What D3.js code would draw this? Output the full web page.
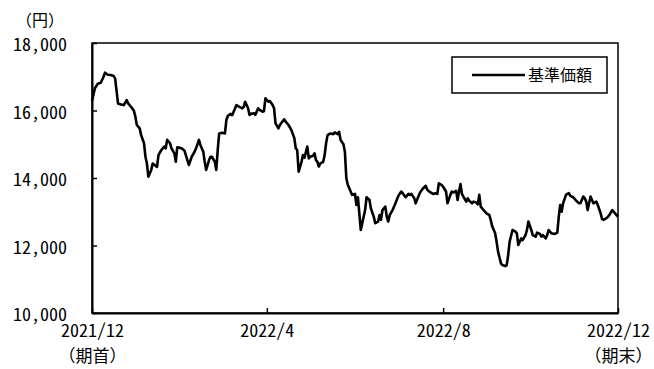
<!DOCTYPE html>
<html>
<head>
<meta charset="utf-8">
<script src="https://cdn.jsdelivr.net/npm/d3@7"></script>
<style>
  body { margin: 0; background: #fff; }
  text { fill: #000; }
</style>
</head>
<body>
<svg id="chart" width="654" height="369"></svg>
<script>
// 基準価額の推移（期首 2021/12 〜 期末 2022/12）
const navDates = [
  "2021-12-08","2021-12-10","2021-12-12","2021-12-14","2021-12-16","2021-12-17","2021-12-19","2021-12-21","2021-12-23","2021-12-24",
  "2021-12-26","2021-12-28","2021-12-30","2022-01-01","2022-01-02","2022-01-04","2022-01-06","2022-01-07","2022-01-08","2022-01-10",
  "2022-01-11","2022-01-13","2022-01-14","2022-01-15","2022-01-16","2022-01-18","2022-01-19","2022-01-21","2022-01-22","2022-01-23",
  "2022-01-25","2022-01-27","2022-01-28","2022-01-29","2022-01-31","2022-02-01","2022-02-03","2022-02-04","2022-02-05","2022-02-06",
  "2022-02-08","2022-02-10","2022-02-12","2022-02-13","2022-02-15","2022-02-17","2022-02-18","2022-02-20","2022-02-21","2022-02-23",
  "2022-02-24","2022-02-25","2022-02-27","2022-02-28","2022-03-01","2022-03-03","2022-03-04","2022-03-05","2022-03-06","2022-03-08",
  "2022-03-10","2022-03-11","2022-03-12","2022-03-14","2022-03-15","2022-03-16","2022-03-18","2022-03-20","2022-03-22","2022-03-23",
  "2022-03-24","2022-03-26","2022-03-27","2022-03-28","2022-03-30","2022-03-31","2022-04-02","2022-04-03","2022-04-05","2022-04-06",
  "2022-04-07","2022-04-09","2022-04-10","2022-04-12","2022-04-13","2022-04-14","2022-04-16","2022-04-17","2022-04-20","2022-04-21",
  "2022-04-23","2022-04-25","2022-04-27","2022-04-28","2022-04-29","2022-04-30","2022-05-02","2022-05-03","2022-05-04","2022-05-06",
  "2022-05-07","2022-05-08","2022-05-10","2022-05-11","2022-05-12","2022-05-13","2022-05-14","2022-05-15","2022-05-17","2022-05-18",
  "2022-05-19","2022-05-20","2022-05-22","2022-05-24","2022-05-25","2022-05-27","2022-05-28","2022-05-29","2022-05-31","2022-06-01",
  "2022-06-02","2022-06-03","2022-06-05","2022-06-06","2022-06-08","2022-06-09","2022-06-10","2022-06-11","2022-06-12","2022-06-13",
  "2022-06-15","2022-06-16","2022-06-18","2022-06-19","2022-06-21","2022-06-22","2022-06-24","2022-06-25","2022-06-26","2022-06-27",
  "2022-06-29","2022-06-30","2022-07-01","2022-07-02","2022-07-04","2022-07-06","2022-07-08","2022-07-10","2022-07-11","2022-07-13",
  "2022-07-15","2022-07-16","2022-07-17","2022-07-19","2022-07-20","2022-07-22","2022-07-23","2022-07-25","2022-07-27","2022-07-28",
  "2022-07-30","2022-08-01","2022-08-03","2022-08-04","2022-08-05","2022-08-07","2022-08-08","2022-08-10","2022-08-11","2022-08-13",
  "2022-08-14","2022-08-15","2022-08-17","2022-08-18","2022-08-19","2022-08-20","2022-08-21","2022-08-22","2022-08-24","2022-08-25",
  "2022-08-26","2022-08-28","2022-08-29","2022-08-31","2022-09-01","2022-09-02","2022-09-03","2022-09-05","2022-09-07","2022-09-09",
  "2022-09-10","2022-09-11","2022-09-13","2022-09-14","2022-09-15","2022-09-17","2022-09-18","2022-09-20","2022-09-21","2022-09-22",
  "2022-09-23","2022-09-25","2022-09-27","2022-09-28","2022-09-29","2022-10-01","2022-10-02","2022-10-04","2022-10-05","2022-10-06",
  "2022-10-08","2022-10-09","2022-10-11","2022-10-12","2022-10-14","2022-10-15","2022-10-16","2022-10-18","2022-10-19","2022-10-20",
  "2022-10-22","2022-10-24","2022-10-26","2022-10-27","2022-10-28","2022-10-29","2022-10-30","2022-11-01","2022-11-02","2022-11-03",
  "2022-11-04","2022-11-06","2022-11-08","2022-11-10","2022-11-11","2022-11-13","2022-11-14","2022-11-15","2022-11-16","2022-11-18",
  "2022-11-19","2022-11-20","2022-11-22","2022-11-23","2022-11-25","2022-11-26","2022-11-27","2022-11-29","2022-11-30","2022-12-01",
  "2022-12-03","2022-12-04","2022-12-06","2022-12-07"
];

const navValues = [
  16280,16660,16790,16820,17000,17120,17060,17050,17020,16950,
  16210,16180,16160,16310,16210,16110,15990,15820,15570,15470,
  15270,15030,14630,14430,14040,14240,14430,14360,14330,14680,
  14830,14930,14880,15130,15030,14880,14730,14480,14910,14900,
  14880,14810,14530,14385,14630,14780,14880,15130,14980,14780,
  14480,14240,14530,14630,14630,14480,14240,14830,15320,15340,
  15320,15720,15840,15900,15860,15965,16160,16110,16065,16110,
  16260,16065,15870,15900,15920,15870,16065,16015,15965,15980,
  16360,16260,16280,16160,16065,15620,15470,15570,15740,15670,
  15570,15420,15180,14880,14830,14190,14480,14680,14600,14930,
  14580,14630,14660,14730,14530,14480,14340,14430,14480,14680,
  15030,15270,15320,15300,15350,15300,15370,15130,15000,14780,
  14000,13800,13600,13500,13530,13200,13430,12950,12460,12660,
  13050,13430,13350,13100,12850,12660,12710,12900,12760,13050,
  13150,12850,12710,12900,13050,13250,13470,13600,13550,13430,
  13530,13500,13530,13400,13250,13470,13570,13690,13770,13650,
  13580,13530,13550,13530,13840,13790,13740,13600,13250,13500,
  13600,13570,13620,13350,13600,13820,13530,13450,13300,13400,
  13330,13250,13300,13270,13220,13500,13150,13050,12950,12900,
  12740,12560,12360,12110,11820,11470,11420,11390,11420,11720,
  12110,12460,12410,12360,12015,12210,12160,12310,12460,12710,
  12460,12310,12260,12380,12340,12260,12310,12210,12310,12460,
  12360,12340,12380,12850,13200,13000,13250,13500,13530,13550,
  13470,13430,13330,13250,13250,13450,13400,13300,13050,13450,
  13350,13250,13300,13200,12950,12780,12760,12810,12850,12900,
  13050,13000,12900,12850
];

const yTickValues = [10000, 12000, 14000, 16000, 18000];
const xTickDates = ["2021-12-08", "2022-04-08", "2022-08-08", "2022-12-07"];
const xTickLabels = ["2021/12", "2022/4", "2022/8", "2022/12"];
const xSubLabels = ["（期首）", "", "", "（期末）"];
const unitLabel = "（円）";
const seriesName = "基準価額";

const numFont = "'Noto Sans Mono CJK JP', 'Noto Sans CJK JP', sans-serif";
const cjkFont = "'Noto Sans CJK JP', sans-serif";

const margin = { left: 92, right: 36, top: 43, bottom: 56 };
const W = 654, H = 369;
const plotW = W - margin.left - margin.right;
const plotH = H - margin.top - margin.bottom;

const parse = d3.timeParse("%Y-%m-%d");
const series = navDates.map((d, i) => ({ date: parse(d), value: navValues[i] }));

const x = d3.scaleTime()
  .domain([parse(xTickDates[0]), parse(xTickDates[xTickDates.length - 1])])
  .range([margin.left, margin.left + plotW]);
const y = d3.scaleLinear()
  .domain([10000, 18000])
  .range([margin.top + plotH, margin.top]);

const svg = d3.select("#chart");

// plot frame
svg.append("rect")
  .attr("x", margin.left).attr("y", margin.top)
  .attr("width", plotW).attr("height", plotH)
  .attr("fill", "none").attr("stroke", "#000").attr("stroke-width", 1.5);

// y axis: inward ticks, labels on the left
const yAxis = d3.axisLeft(y)
  .tickValues(yTickValues)
  .tickSizeInner(-5).tickSizeOuter(0)
  .tickPadding(26)
  .tickFormat(d => d3.format(",")(d));
const gy = svg.append("g")
  .attr("transform", `translate(${margin.left},0)`)
  .call(yAxis);
gy.select(".domain").attr("stroke", "#000").attr("stroke-width", 2);
gy.selectAll(".tick line").attr("stroke", "#000").attr("stroke-width", 1.5);
gy.selectAll(".tick text")
  .attr("x", -25).attr("dy", "0.42em")
  .attr("font-family", numFont).attr("font-size", 18)
  .attr("text-anchor", "end");

// x axis: inward ticks, labels below
const xAxis = d3.axisBottom(x)
  .tickValues(xTickDates.map(parse))
  .tickSizeInner(-5).tickSizeOuter(0)
  .tickFormat((d, i) => xTickLabels[i]);
const gx = svg.append("g")
  .attr("transform", `translate(0,${margin.top + plotH})`)
  .call(xAxis);
gx.select(".domain").attr("stroke", "#000").attr("stroke-width", 2);
gx.selectAll(".tick line").attr("stroke", "#000").attr("stroke-width", 1.5);
gx.selectAll(".tick text")
  .attr("y", 24).attr("dy", 0)
  .attr("font-family", numFont).attr("font-size", 18);
gx.selectAll(".tick")
  .append("text")
  .attr("y", 49)
  .attr("text-anchor", "middle")
  .attr("font-family", cjkFont).attr("font-size", 17)
  .attr("fill", "#000")
  .text((d, i) => xSubLabels[i]);

// unit label
svg.append("text")
  .attr("x", 40).attr("y", 26)
  .attr("text-anchor", "middle")
  .attr("font-family", cjkFont).attr("font-size", 16)
  .text(unitLabel);

// NAV line
const line = d3.line()
  .x(d => x(d.date))
  .y(d => y(d.value));
svg.append("path")
  .datum(series)
  .attr("fill", "none")
  .attr("stroke", "#000")
  .attr("stroke-width", 2.6)
  .attr("stroke-linejoin", "round")
  .attr("d", line);

// legend
const lg = svg.append("g");
lg.append("rect")
  .attr("x", 452).attr("y", 57).attr("width", 155).attr("height", 36)
  .attr("fill", "#fff").attr("stroke", "#000").attr("stroke-width", 1.5);
lg.append("line")
  .attr("x1", 472).attr("x2", 525).attr("y1", 75).attr("y2", 75)
  .attr("stroke", "#000").attr("stroke-width", 2.6);
lg.append("text")
  .attr("x", 528).attr("y", 75).attr("dy", "0.36em")
  .attr("font-family", cjkFont).attr("font-size", 16)
  .text(seriesName);
</script>
</body>
</html>
